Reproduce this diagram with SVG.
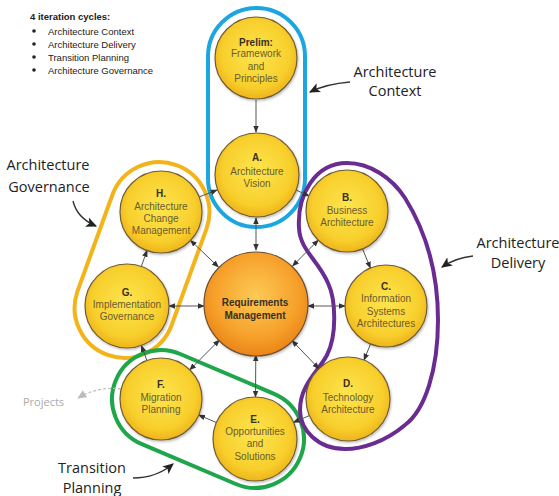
<svg xmlns="http://www.w3.org/2000/svg" width="559" height="496" viewBox="0 0 559 496">
<style>
.node{fill:url(#yg);stroke:#6e5d33;stroke-width:1.2;filter:url(#sh)}
.lbl{font-family:"Liberation Sans",Arial,sans-serif;font-size:10px;font-weight:bold;fill:#3a3020;text-anchor:middle}
.txt{font-family:"Liberation Sans",Arial,sans-serif;font-size:10px;fill:#6b5b2c;text-anchor:middle}
.ann{font-family:"Open Sans","Liberation Sans",sans-serif;font-size:14.5px;fill:#222;text-anchor:middle}
.hd{font-family:"Liberation Sans",Arial,sans-serif;font-size:9.5px;fill:#222}
.con{stroke:#555;stroke-width:1;fill:none}
.aline{stroke:#333;stroke-width:1.4;fill:none}
</style>
<defs>
<radialGradient id="yg" cx="50%" cy="45%" r="55%">
<stop offset="0" stop-color="#fde54f"/>
<stop offset="0.75" stop-color="#f8cf2c"/>
<stop offset="1" stop-color="#eeb41c"/>
</radialGradient>
<radialGradient id="og" cx="50%" cy="42%" r="58%">
<stop offset="0" stop-color="#fcca55"/>
<stop offset="0.7" stop-color="#f6a02a"/>
<stop offset="1" stop-color="#ea8418"/>
</radialGradient>
<filter id="sh" x="-20%" y="-20%" width="140%" height="140%">
<feDropShadow dx="1" dy="1.5" stdDeviation="1.2" flood-color="#000" flood-opacity="0.25"/>
</filter>
<marker id="ah" viewBox="0 0 10 10" refX="9" refY="5" markerWidth="7" markerHeight="7" orient="auto-start-reverse" markerUnits="userSpaceOnUse">
<path d="M0,1 L10,5 L0,9 Z" fill="#333"/>
</marker>
<marker id="ah2" viewBox="0 0 10 10" refX="9" refY="5" markerWidth="11" markerHeight="11" orient="auto" markerUnits="userSpaceOnUse">
<path d="M0,0.5 L10,5 L0,9.5 L2.5,5 Z" fill="#222"/>
</marker>
<marker id="ahg" viewBox="0 0 10 10" refX="9" refY="5" markerWidth="9" markerHeight="9" orient="auto" markerUnits="userSpaceOnUse">
<path d="M0,0.5 L10,5 L0,9.5 Z" fill="#bbb"/>
</marker>
</defs>
<rect width="559" height="496" fill="#fff"/>

<g id="legend">
<text class="hd" x="30" y="20" font-weight="bold" font-size="9">4 iteration cycles:</text>
<circle cx="34" cy="31" r="1.8" fill="#222"/>
<circle cx="34" cy="44" r="1.8" fill="#222"/>
<circle cx="34" cy="57" r="1.8" fill="#222"/>
<circle cx="34" cy="70" r="1.8" fill="#222"/>
<text class="hd" x="48" y="34.5">Architecture Context</text>
<text class="hd" x="48" y="47.5">Architecture Delivery</text>
<text class="hd" x="48" y="60.5">Transition Planning</text>
<text class="hd" x="48" y="73.5">Architecture Governance</text>
</g>

<g id="cycles" fill="none" stroke-width="4">
<rect id="context-outline" x="208" y="8" width="97" height="219" rx="48.5" stroke="#1ba6df"/>
<rect id="governance-outline" x="-101" y="-50" width="202" height="100" rx="50" stroke="#f3b41b" transform="translate(142,260) rotate(-70.1)"/>
<rect id="transition-outline" x="-100" y="-49" width="200" height="98" rx="49" stroke="#1fa64a" transform="translate(208,419) rotate(23)"/>
<path id="delivery-outline" stroke="#6a2c91" d="M347,163 C370,163 392,178 405,198 C425,230 438,270 438,320 C438,370 425,410 405,425 C385,442 362,449 345,449 C318,449 300,430 300,410 C300,385 318,372 327,355 C337,335 336,300 328,283 C318,260 300,250 299,228 C297,195 315,163 347,163 Z"/>
</g>

<g id="connectors">
<line class="con" x1="256" y1="100" x2="256" y2="132" marker-end="url(#ah)"/>
<line class="con" x1="296" y1="190" x2="309" y2="196" marker-end="url(#ah)"/>
<line class="con" x1="199" y1="197" x2="217" y2="190" marker-end="url(#ah)"/>
<line class="con" x1="256" y1="218" x2="256" y2="250" marker-start="url(#ah)" marker-end="url(#ah)"/>
<line class="con" x1="362.6" y1="249" x2="370.4" y2="268" marker-end="url(#ah)"/>
<line class="con" x1="370.5" y1="344" x2="364" y2="360" marker-end="url(#ah)"/>
<line class="con" x1="309.4" y1="415.6" x2="293.4" y2="422.4" marker-end="url(#ah)"/>
<line class="con" x1="216.4" y1="422.5" x2="198.7" y2="415" marker-end="url(#ah)"/>
<line class="con" x1="146.9" y1="360.5" x2="141.4" y2="345.6" marker-end="url(#ah)"/>
<line class="con" x1="141.3" y1="266.5" x2="147" y2="250.5" marker-end="url(#ah)"/>
<line class="con" x1="190.6" y1="240.4" x2="218.4" y2="267" marker-start="url(#ah)" marker-end="url(#ah)"/>
<line class="con" x1="169" y1="306" x2="204" y2="306" marker-start="url(#ah)" marker-end="url(#ah)"/>
<line class="con" x1="318.2" y1="240.2" x2="292.6" y2="266" marker-start="url(#ah)" marker-end="url(#ah)"/>
<line class="con" x1="345" y1="306" x2="308" y2="306" marker-start="url(#ah)" marker-end="url(#ah)"/>
<line class="con" x1="318.9" y1="368.7" x2="292" y2="340.5" marker-start="url(#ah)" marker-end="url(#ah)"/>
<line class="con" x1="255.5" y1="397" x2="255.8" y2="355" marker-start="url(#ah)" marker-end="url(#ah)"/>
<line class="con" x1="189.8" y1="369.8" x2="219.4" y2="340" marker-start="url(#ah)" marker-end="url(#ah)"/>
<path d="M121,389 Q98,386 78,398" stroke="#bbb" stroke-width="1.2" fill="none" stroke-dasharray="3,2" marker-end="url(#ahg)"/>
<path class="aline" d="M350,82 Q326,84 310,92" marker-end="url(#ah2)"/>
<path class="aline" d="M473,256 Q455,258 442,267" marker-end="url(#ah2)"/>
<path class="aline" d="M73,201 Q77,218 96,226" marker-end="url(#ah2)"/>
<path class="aline" d="M133,478 Q156,478 173,464" marker-end="url(#ah2)"/>
</g>

<g id="prelim">
<circle class="node" cx="256" cy="58" r="41"/>
<text class="lbl" x="256" y="46" font-size="11">Prelim:</text>
<text class="txt" x="256" y="57">Framework</text>
<text class="txt" x="256" y="70">and</text>
<text class="txt" x="256" y="82">Principles</text>
</g>
<g id="a">
<circle class="node" cx="257" cy="175" r="42"/>
<text class="lbl" x="257" y="161" font-size="11">A.</text>
<text class="txt" x="257" y="175">Architecture</text>
<text class="txt" x="257" y="187">Vision</text>
</g>
<g id="b">
<circle class="node" cx="347" cy="211" r="41"/>
<text class="lbl" x="347" y="201" font-size="11">B.</text>
<text class="txt" x="347" y="214">Business</text>
<text class="txt" x="347" y="226">Architecture</text>
</g>
<g id="c">
<circle class="node" cx="386" cy="306" r="41"/>
<text class="lbl" x="386" y="290" font-size="11">C.</text>
<text class="txt" x="386" y="302">Information</text>
<text class="txt" x="386" y="315">Systems</text>
<text class="txt" x="386" y="327">Architectures</text>
</g>
<g id="d">
<circle class="node" cx="348" cy="399" r="42"/>
<text class="lbl" x="348" y="387" font-size="11">D.</text>
<text class="txt" x="348" y="401">Technology</text>
<text class="txt" x="348" y="413">Architecture</text>
</g>
<g id="e">
<circle class="node" cx="255" cy="439" r="42"/>
<text class="lbl" x="255" y="423" font-size="11">E.</text>
<text class="txt" x="255" y="435">Opportunities</text>
<text class="txt" x="255" y="447">and</text>
<text class="txt" x="255" y="460">Solutions</text>
</g>
<g id="f">
<circle class="node" cx="161" cy="399" r="41"/>
<text class="lbl" x="161" y="388" font-size="11">F.</text>
<text class="txt" x="161" y="401">Migration</text>
<text class="txt" x="161" y="413">Planning</text>
</g>
<g id="g">
<circle class="node" cx="127" cy="306" r="42"/>
<text class="lbl" x="127" y="296" font-size="11">G.</text>
<text class="txt" x="127" y="308">Implementation</text>
<text class="txt" x="127" y="320">Governance</text>
</g>
<g id="h">
<circle class="node" cx="161" cy="212" r="41"/>
<text class="lbl" x="161" y="197" font-size="11">H.</text>
<text class="txt" x="161" y="210">Architecture</text>
<text class="txt" x="161" y="222">Change</text>
<text class="txt" x="161" y="234">Management</text>
</g>
<g id="rm">
<circle cx="256" cy="304" r="52" fill="url(#og)" stroke="#6e5030" stroke-width="1.2" filter="url(#sh)"/>
<text class="lbl" x="255" y="306" font-size="12">Requirements</text>
<text class="lbl" x="255" y="319" font-size="12">Management</text>
</g>

<g id="annotations">
<text class="ann" x="395" y="77">Architecture</text>
<text class="ann" x="395" y="96">Context</text>
<text class="ann" x="518" y="248">Architecture</text>
<text class="ann" x="518" y="268">Delivery</text>
<text class="ann" x="48" y="170">Architecture</text>
<text class="ann" x="49" y="192">Governance</text>
<text class="ann" x="92" y="473">Transition</text>
<text class="ann" x="92" y="493">Planning</text>
<text x="23" y="406" font-family="'Open Sans','Liberation Sans',sans-serif" font-size="11" fill="#aaa">Projects</text>
</g>
</svg>
